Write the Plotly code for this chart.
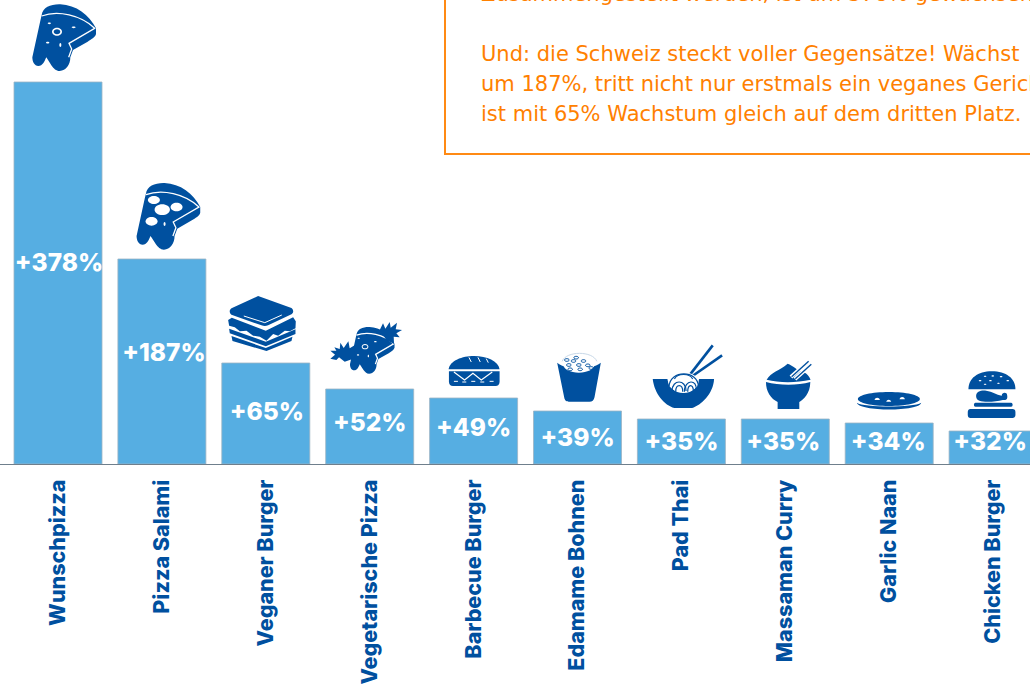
import re
import plotly.graph_objects as go

categories = ["Wunschpizza", "Pizza Salami", "Veganer Burger", "Vegetarische Pizza", "Barbecue Burger",
              "Edamame Bohnen", "Pad Thai", "Massaman Curry", "Garlic Naan", "Chicken Burger"]
growth_labels = ["+378%", "+187%", "+65%", "+52%", "+49%", "+39%", "+35%", "+35%", "+34%", "+32%"]
bar_heights = [382, 205, 101, 75, 66, 53, 45, 45, 41, 33]
label_levels = [199, 109, 50, 39, 34, 24, 20, 20, 20, 20]
label_shift = [1, 2, 1, 0, 0, 0, 0, -2, -1, -3]
box_lines = ["Zusammengestellt werden, ist um 378% gewachsen.",
             "",
             "Und: die Schweiz steckt voller Gegensätze! Wächst",
             "um 187%, tritt nicht nur erstmals ein veganes Gericht",
             "ist mit 65% Wachstum gleich auf dem dritten Platz."]

BLUE = "#00509F"
BAR = "#56AEE2"
ORANGE = "#FF8A14"
TXT = "#FF8000"
W, H, BASE = 1030, 686, 464
STEP, FIRST = 103.9, 58
positions = list(range(len(categories)))


def ell(cx, cy, rx, ry):
    k = 0.5523
    return (f"M{cx-rx},{cy} C{cx-rx},{cy-k*ry} {cx-k*rx},{cy-ry} {cx},{cy-ry} "
            f"C{cx+k*rx},{cy-ry} {cx+rx},{cy-k*ry} {cx+rx},{cy} "
            f"C{cx+rx},{cy+k*ry} {cx+k*rx},{cy+ry} {cx},{cy+ry} "
            f"C{cx-k*rx},{cy+ry} {cx-rx},{cy+k*ry} {cx-rx},{cy} Z")


def xf(path, s=1.0, dx=0.0, dy=0.0):
    return re.sub(r"(-?\d+\.?\d*),(-?\d+\.?\d*)",
                  lambda m: f"{float(m[1])*s+dx:.1f},{float(m[2])*s+dy:.1f}", path)


shapes = []


def icon(i, origin, parts):
    """Parts are drawn in 3x crop units around the bar-top centre at origin."""
    for color, path, lw in parts:
        conv = re.sub(r"(-?\d+\.?\d*),(-?\d+\.?\d*)",
                      lambda m: f"{(float(m[1])-origin[0])/3:.2f},{(origin[1]-float(m[2]))/3:.2f}", path)
        conv = re.sub(r"([MLCZ])", r" \1 ", conv).replace(",", " ")
        conv = re.sub(r"\s+", " ", conv).strip()
        d = dict(type="path", xref="x", yref="y", xsizemode="pixel", ysizemode="pixel",
                 xanchor=i, yanchor=bar_heights[i], path=conv, layer="above")
        if lw:
            d["line"] = dict(color=color, width=lw)
            d["fillcolor"] = "rgba(0,0,0,0)"
        else:
            d["line"] = dict(width=0)
            d["fillcolor"] = color
        shapes.append(d)


SLICE = ("M122,45 C125,22 150,12 178,13 C225,15 265,45 285,85 L285,102 C283,112 270,118 260,125 L216,150 "
         "L208,172 C208,195 195,212 176,213 C165,213 158,205 152,197 L136,172 "
         "C130,185 125,198 112,198 C100,198 94,185 94,172 L118,62 Z")
CRUST = "M122,48 C170,30 240,45 281,85 L204,130 L212,147 L203,172"


def slice_parts(s, dx, dy, tops):
    parts = [(BLUE, xf(SLICE, s, dx, dy), 0), ("white", xf(CRUST, s, dx, dy), 1.3)]
    for cx, cy, rx, ry in tops:
        parts.append(("white", ell(cx, cy, rx, ry), 0))
    return parts


# 1 Wunschpizza
p1 = slice_parts(1, 0, 0, [(168, 95, 15, 12), (145, 70, 5, 2.5), (218, 82, 6, 2.5), (140, 128, 5, 2.5), (178, 135, 3, 6)])
p1.append((BLUE, ell(168, 95, 10, 7.5), 0))
icon(0, (171, 246), p1)
# 2 Pizza Salami
icon(1, (486, 777), slice_parts(1, 316, 536, [(462, 600, 18, 12), (487, 629, 23, 16), (530, 621, 18, 13), (455, 664, 18, 13), (494, 672, 3, 6)]))

# 3 Sandwich
icon(2, (168, 249), [
    (BLUE, "M145,48 L245,84 C252,90 252,98 245,103 L175,136 C168,139 162,139 155,136 L65,104 C58,99 58,90 65,85 Z", 0),
    ("white", "M102,108 L165,128 L216,105", 1),
    (BLUE, "M55,120 L66,113 L168,152 L250,112 L258,124 L257,145 L240,154 L225,152 L205,167 L190,162 L170,182 L150,170 L130,167 L110,152 L90,154 L75,142 L58,137 Z", 0),
    (BLUE, "M58,146 L168,185 L257,148 L257,162 L168,199 L60,160 Z", 0),
    (BLUE, "M65,168 L168,204 L248,170 L245,183 L170,213 L68,183 Z", 0),
])
# 4 Vegetarische Pizza
veg = slice_parts(0.7, 355, 132, [(466, 200, 10, 8), (447, 175, 3.5, 2), (497, 185, 4, 2), (445, 225, 3.5, 2), (476, 228, 2, 4)])
veg.append((BLUE, ell(466, 200, 7, 5), 0))
veg += [
    (BLUE, "M435,235 L405,245 L388,232 L380,240 L362,236 L376,224 L362,212 L380,212 L374,202 L390,207 L392,188 L402,204 L416,184 L420,205 L436,195 Z", 0),
    (BLUE, "M510,150 L520,130 L527,146 L540,126 L543,143 L562,128 L558,148 L577,150 L560,160 L570,172 L552,170 L553,192 L530,180 Z", 0),
]
icon(3, (480, 327), veg)
# 5 Barbecue Burger
icon(4, (792, 354), [
    (BLUE, "M717,268 C720,242 758,228 793,228 C832,228 866,243 870,268 Z", 0),
    ("white", "M778,232 L785,246", 1), ("white", "M805,232 L812,246", 1), ("white", "M830,236 L836,248", 1),
    (BLUE, "M718,274 L870,274 L870,305 C870,313 865,318 858,318 L730,318 C723,318 718,313 718,305 Z", 0),
    ("white", "M733,276 L765,300 L790,280 L815,300 L848,276", 1.2),
    ("white", "M733,304 L745,304 M758,306 L770,306 M785,304 L797,304 M812,306 L824,306 M840,304 L852,304", 1),
])
# 6 Edamame Bohnen
eda = [
    (BLUE, "M1043,248 C1075,272 1140,272 1174,248 L1155,352 C1153,362 1148,365 1140,365 L1078,365 C1070,365 1066,362 1064,352 Z", 0),
    ("#c8d8e8", "M1058,244 C1070,212 1150,212 1162,244", 1),
    ("white", ell(1108, 255, 46, 23), 0),
]
for cx, cy in [(1078, 255), (1092, 243), (1108, 255), (1122, 243), (1135, 256), (1082, 268), (1112, 268), (1145, 264), (1072, 240), (1100, 233)]:
    eda.append((BLUE, ell(cx, cy, 7, 4), 1))
icon(5, (1104, 393), eda)
# 7 Pad Thai
pad = [
    (BLUE, "M180,135 L250,45", 2.6), (BLUE, "M185,140 L278,75", 2.6),
    (BLUE, "M70,146 L114,146 C118,170 135,188 162,188 C190,188 205,170 209,146 L254,146 C252,190 215,225 188,233 L135,233 C105,225 75,190 70,146 Z", 0),
    ("white", ell(162, 156, 45, 30), 0),
    (BLUE, "M119,168 C122,118 205,118 207,168", 1.2),
    (BLUE, "M128,182 C128,146 170,146 170,182", 1.2),
    (BLUE, "M139,184 C139,160 160,160 160,184", 1.2),
    (BLUE, "M165,184 C165,146 205,146 200,180", 1.2),
    (BLUE, "M175,184 C175,160 192,160 192,182", 1.2),
    (BLUE, "M135,146 C145,128 180,128 190,146", 1.2),
]
icon(6, (156, 266), pad)
# 8 Massaman Curry
icon(7, (468, 266), [
    (BLUE, "M412,148 C425,125 450,122 475,100 C490,105 510,125 522,125 C535,130 540,140 544,148 C500,158 450,158 412,148 Z", 0),
    ("white", "M485,140 L538,93", 4), (BLUE, "M487,139 L538,93", 1.4),
    ("white", "M497,146 L546,102", 4), (BLUE, "M498,145 L546,102", 1.4),
    (BLUE, "M410,155 C450,166 505,166 543,155 C543,190 522,208 510,215 L510,236 L445,236 L445,215 C425,205 410,185 410,155 Z", 0),
])
# 9 Garlic Naan
icon(8, (777, 279), [
    (BLUE, ell(776, 207, 93, 21), 0),
    (BLUE, "M680,218 C700,233 850,233 873,218 C870,245 685,245 680,218 Z", 0),
    ("white", "M733,210 C735,201 747,201 749,210 Z", 0),
    ("white", "M768,215 C770,207 781,207 783,215 Z", 0),
    ("white", "M808,208 C810,199 822,199 824,208 Z", 0),
])
# 10 Chicken Burger
burger = [
    (BLUE, "M1012,178 C1012,145 1040,124 1082,124 C1125,124 1153,145 1153,178 Z", 0),
    (BLUE, "M1035,198 C1035,185 1050,180 1065,182 C1085,184 1095,195 1112,197 C1112,186 1128,186 1128,195 C1130,205 1128,212 1115,210 C1095,215 1060,218 1045,212 C1038,210 1035,205 1035,198 Z", 0),
    (BLUE, "M1033,218 L1140,218 C1146,218 1146,230 1140,230 L1033,230 C1027,230 1027,218 1033,218 Z", 0),
    (BLUE, "M1018,237 L1144,237 C1150,237 1153,241 1153,246 L1153,255 C1153,260 1149,264 1144,264 L1018,264 C1013,264 1010,260 1010,255 L1010,246 C1010,241 1013,237 1018,237 Z", 0),
]
for cx, cy in [(1062, 139), (1085, 138), (1110, 140), (1047, 152), (1078, 152), (1102, 160), (1062, 163), (1130, 152)]:
    burger.append(("white", ell(cx, cy, 4, 2), 0))
icon(9, (1086, 303), burger)

# Text box
shapes.append(dict(type="rect", xref="paper", yref="paper", x0=445 / W, x1=1.02, y0=1 - 154 / H, y1=1.02,
                   line=dict(color=ORANGE, width=2), fillcolor="rgba(0,0,0,0)", layer="above"))

annotations = []
for idx, line in enumerate(box_lines):
    if line:
        annotations.append(dict(text=line, xref="paper", yref="paper", x=479 / W, y=1 - (-6 + idx * 30) / H,
                                xanchor="left", yanchor="middle", showarrow=False, align="left",
                                font=dict(family="DejaVu Sans", size=21, color=TXT)))

fig = go.Figure()
fig.add_bar(x=positions, y=bar_heights, width=88 / STEP, marker=dict(color=BAR, line=dict(color="#9DB4C4", width=0.8)),
            hoverinfo="skip", showlegend=False)
fig.add_scatter(x=[p + s / STEP for p, s in zip(positions, label_shift)], y=label_levels, mode="text",
                text=growth_labels, textposition="middle center",
                textfont=dict(family="Inter", size=24.5, color="white", weight=800),
                hoverinfo="skip", showlegend=False, cliponaxis=False)
fig.update_layout(
    width=W, height=H, margin=dict(l=0, r=0, t=0, b=0), paper_bgcolor="white", plot_bgcolor="white",
    shapes=shapes, annotations=annotations,
    xaxis=dict(range=[-FIRST / STEP, (W - FIRST) / STEP], tickvals=positions, ticktext=categories, tickangle=-90,
               showgrid=False, zeroline=False, showline=True, linecolor="#6F7F8C", linewidth=1, ticks="outside",
               ticklen=6, tickcolor="rgba(0,0,0,0)",
               tickfont=dict(family="Inter", size=21.5, color=BLUE, weight=800), automargin=False),
    yaxis=dict(domain=[1 - BASE / H, 1], range=[0, BASE], visible=False),
)
fig.write_html("out.html", config=dict(displayModeBar=False),
               post_script="document.body.style.margin='0';document.body.style.overflow='hidden';")
